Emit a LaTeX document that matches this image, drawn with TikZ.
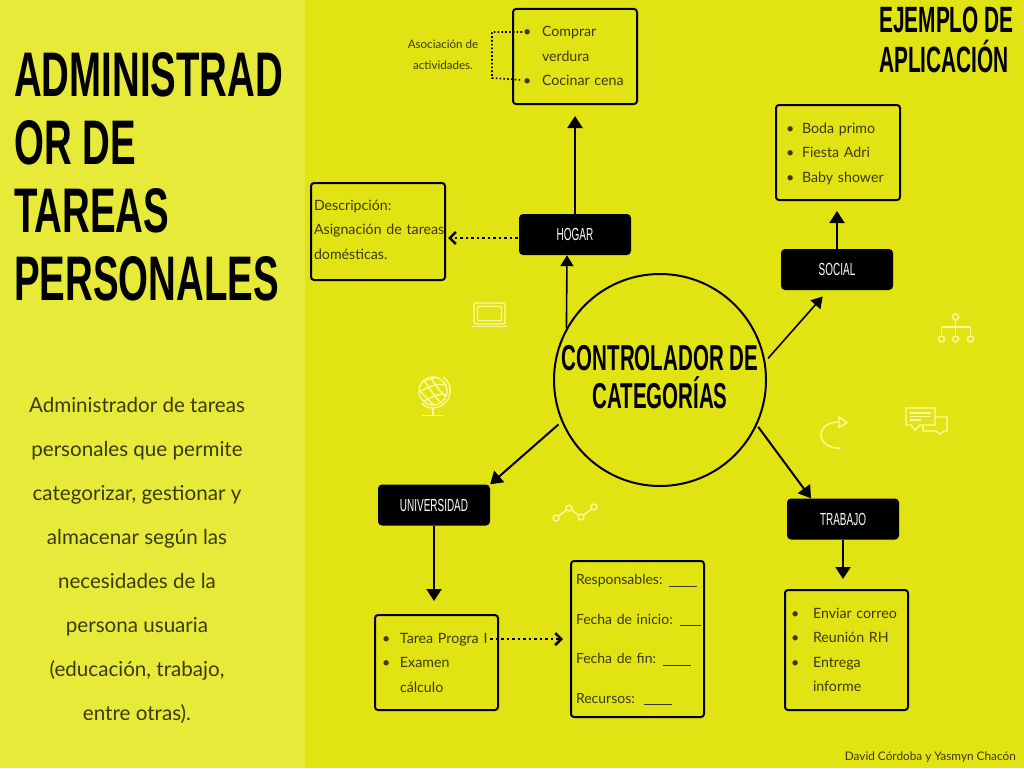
\documentclass[tikz,border=0pt]{standalone}
\usepackage{fontspec}
\usetikzlibrary{arrows.meta,calc}
\setmainfont{Lato}
\newfontfamily\bebas[FakeStretch=.61]{Liberation Sans}
\newfontfamily\bebasn[FakeStretch=.57]{Liberation Sans}
\definecolor{mainbg}{HTML}{E2E312}
\definecolor{sidebg}{HTML}{E8EA3A}
\definecolor{ink}{HTML}{3A3A08}
\definecolor{icon}{HTML}{FBFB9E}
\newlength{\bulletgap}
\newcommand{\li}[1]{\makebox[\bulletgap][l]{•}#1}
\newcommand{\lc}[1]{\hspace*{\bulletgap}#1}
\newcommand{\st}{\rule[-4pt]{0pt}{18pt}}
\tikzset{
  x=1pt,y=-1pt,
  infobox/.style={draw=black,line width=2pt,rounded corners=3pt,text=ink,align=left,inner xsep=4pt,inner ysep=0pt,font=\fontsize{14.2}{24.5}\selectfont,execute at begin node=\st,execute at end node=\st},
  catbox/.style={fill=black,rounded corners=4pt,text=white,minimum width=112pt,minimum height=41pt,inner sep=0pt,font=\bebasn\fontsize{17.5}{20}\selectfont},
  solidarrow/.style={draw=black,line width=2pt,-{Triangle[length=12pt,width=15pt]}},
  thinarrow/.style={draw=black,line width=1.6pt,-{Triangle[length=11pt,width=13pt]}},
  dotarrow/.style={draw=black,line width=2.5pt,dash pattern=on 2.5pt off 3pt,-{Straight Barb[length=6pt,width=12pt,line width=2.5pt]}},
  iconline/.style={draw=icon,line width=1.4pt},
  plain/.style={inner sep=0pt,text=ink}
}
\begin{document}
\begin{tikzpicture}
\useasboundingbox (0,0) rectangle (1024,768);
\fill[mainbg] (0,0) rectangle (1024,768);
\fill[sidebg] (0,0) rectangle (305,768);

% left panel
\node[plain,text=black,anchor=north west,align=left,font=\bebas\bfseries\fontsize{63}{68}\selectfont] (title) at (14,52) {ADMINISTRAD\\OR DE\\TAREAS\\PERSONALES};
\node[plain,anchor=center,align=center,font=\fontsize{20.6}{44}\selectfont] (intro) at (137,560) {Administrador de tareas\\personales que permite\\categorizar, gestionar y\\almacenar según las\\necesidades de la\\persona usuaria\\(educación, trabajo,\\entre otras).};

% headings
\node[plain,text=black,anchor=north west,align=left,font=\bebasn\bfseries\fontsize{36.6}{40}\selectfont] (ejemplo) at (879,7) {EJEMPLO DE\\APLICACIÓN};
\node[plain,anchor=south east,font=\fontsize{11.8}{14}\selectfont] (credit) at (1016,763) {David Córdoba y Yasmyn Chacón};

% central circle
\node[draw=black,line width=2pt,circle,minimum size=212pt,inner sep=0pt] (circ) at (660,380) {};
\node[plain,text=black,align=center,font=\bebasn\bfseries\fontsize{36}{38}\selectfont] (circtext) at (660,377) {CONTROLADOR DE\\CATEGORÍAS};

% category boxes
\node[catbox] (hogar) at (575,234.5) {HOGAR};
\node[catbox] (social) at (837,269.5) {SOCIAL};
\node[catbox] (uni) at (434,505) {UNIVERSIDAD};
\node[catbox] (trabajo) at (843,519) {TRABAJO};

% detail boxes
\setlength{\bulletgap}{19pt}
\node[infobox,minimum width=124pt,minimum height=95pt,text width=104pt,inner xsep=10pt] (compras) at (575,56.5) {\li{Comprar}\\\lc{verdura}\\\li{Cocinar cena}};
\setlength{\bulletgap}{16pt}
\node[infobox,minimum width=124pt,minimum height=95pt,text width=104pt,inner xsep=10pt] (fiestas) at (838,152.5) {\li{Boda primo}\\\li{Fiesta Adri}\\\li{Baby shower}};
\node[infobox,minimum width=134pt,minimum height=97pt,text width=128pt,inner xsep=3pt] (desc) at (378,231.5) {Descripción:\\\mbox{Asignación de tareas}\\domésticas.\rule[-8pt]{0pt}{8pt}};
\setlength{\bulletgap}{18pt}
\node[infobox,minimum width=123pt,minimum height=95pt,text width=109pt,inner xsep=7pt] (tareas) at (436.5,662.5) {\li{Tarea Progra I}\\\li{Examen}\\\lc{cálculo}};
\setlength{\bulletgap}{22pt}
\node[infobox,minimum width=123pt,minimum height=120pt,text width=111pt,inner xsep=6pt] (envios) at (846.5,650) {\li{Enviar correo}\\\li{Reunión RH}\\\li{Entrega}\\\lc{informe}};
\node[infobox,minimum width=131pt,minimum height=156pt,text width=123pt,inner xsep=5pt,font=\fontsize{14}{39.5}\selectfont] (recursos) at (637.5,639) {\mbox{Responsables: \underline{\hspace{28pt}}}\\\mbox{Fecha de inicio: \underline{\hspace{21pt}}}\\\mbox{Fecha de fin: \underline{\hspace{28pt}}}\\\mbox{Recursos:\ \ \underline{\hspace{28pt}}}};

% association note
\node[plain,align=center,font=\fontsize{11.6}{21}\selectfont] (asoc) at (443,55) {Asociación de\\actividades.};
\coordinate (bulletA) at (522,32);
\coordinate (bulletB) at (522,80);
\coordinate (tareaA) at (490,639);
\draw[black,line width=1.6pt,dash pattern=on 1.6pt off 2.2pt] (bulletA) -- (492,32) -- (492,78) -- (bulletB);

% connectors
\draw[solidarrow,shorten >=11pt] (hogar.north) -- (compras.south);
\draw[dotarrow,shorten >=2pt,shorten <=1pt] (hogar.west |- 0,238) -- (desc.east |- 0,238);
\draw[thinarrow] (circ.151) -- ([xshift=-8pt]hogar.south);
\draw[thinarrow,shorten >=2pt,shorten <=4pt] (circ.10.5) -- (824,295);
\draw[solidarrow,shorten >=10pt] (social.north) -- (social.north |- fiestas.south);
\draw[solidarrow,shorten <=4pt] (circ.203) -- (uni.north east);
\draw[solidarrow,shorten <=2pt] (circ.-25) -- ([xshift=-32pt]trabajo.north);
\draw[solidarrow,shorten >=13pt] (uni.south) -- (uni.south |- tareas.north);
\draw[solidarrow,shorten >=10pt] (trabajo.south) -- (trabajo.south |- envios.north);
\draw[dotarrow,shorten >=7pt] (tareaA) -- (recursos.west |- tareaA);

% decorative icons
\draw[iconline,rounded corners=2pt] (474,303) rectangle (505,324);
\draw[iconline,rounded corners=1pt] (477.5,306.5) rectangle (501.5,320.5);
\draw[iconline] (472,326.5) -- (507,326.5);

\begin{scope}
\draw[iconline] (433,391) circle (14);
\clip (433,391) circle (14);
\draw[iconline] (419,383) .. controls (430,378) and (438,376) .. (444,380);
\draw[iconline] (419,392) .. controls (430,386) and (440,382) .. (448,386);
\draw[iconline] (423,402) .. controls (432,396) and (442,392) .. (448,396);
\draw[iconline] (424,380) .. controls (430,390) and (436,398) .. (442,404);
\draw[iconline] (430,377) .. controls (436,386) and (442,394) .. (447,398);
\draw[iconline] (418,388) .. controls (424,396) and (430,402) .. (436,406);
\end{scope}
\draw[iconline] (443,377) .. controls (449,381) and (451,388) .. (450,393) .. controls (449,402) and (440,408) .. (433,408) .. controls (428,408) and (424,406) .. (422,403);
\draw[iconline] (433,408) -- (433,415);
\draw[iconline] (422,415.5) -- (444,415.5);

\draw[iconline] (558.5,516) -- (566.5,510) (571.5,510) -- (578.5,515) (583.5,515) -- (591.5,509);
\draw[iconline] (556,518) circle (3) (569,508) circle (3) (581,517) circle (3) (594,507) circle (3);

\draw[iconline] (955.5,317) circle (3) (941.5,339) circle (3) (955.5,339) circle (3) (970.5,339) circle (3);
\draw[iconline] (955.5,320) -- (955.5,336) (941.5,336) -- (941.5,327) -- (970.5,327) -- (970.5,336);

\draw[iconline] (841,448) .. controls (830,449) and (821,443) .. (821,435) .. controls (821,427) and (829,422) .. (838,422);
\draw[iconline] (839,417) -- (847,422.5) -- (839,427.5) -- cycle;

\draw[iconline] (906,408) -- (935,408) -- (935,425) -- (920,425) -- (915,430) -- (911,425) -- (906,425) -- cycle;
\draw[iconline] (910,413) -- (931,413) (910,416.5) -- (931,416.5) (910,420) -- (921,420);
\draw[iconline] (935,417) -- (947,417) -- (947,431) -- (944,431) -- (940,434) -- (936,431) -- (923,431) -- (923,425);
\end{tikzpicture}
\end{document}
